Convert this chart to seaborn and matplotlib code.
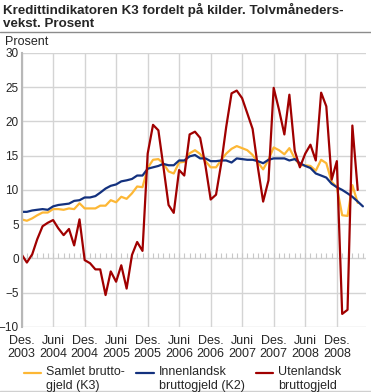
import numpy as np
import pandas as pd
import matplotlib
matplotlib.use('Agg')
import matplotlib.pyplot as plt
import matplotlib.transforms as mtransforms
import seaborn as sns
from matplotlib.lines import Line2D

# Tolvmånedersvekst, des. 2003 - mai 2009
maaneder = pd.date_range('2003-12-01', '2009-05-01', freq='MS')

samlet_k3 = [5.7, 5.5, 5.85, 6.3, 6.7, 6.7, 7.2, 7.2, 7.1, 7.3, 7.2, 8.05,
             7.3, 7.3, 7.3, 7.7, 7.7, 8.5, 8.2, 9.0, 8.7, 9.5, 10.5, 10.4,
             13.2, 14.4, 14.5, 13.9, 12.7, 12.4, 14.0, 14.1, 15.35, 15.8, 15.25, 14.2,
             13.3, 13.3, 14.4, 15.3, 16.0, 16.4, 16.1, 15.8, 15.1, 14.0, 13.0, 14.4,
             16.2, 15.8, 15.2, 16.1, 14.6, 13.6, 13.6, 13.5, 12.8, 14.4, 13.9, 11.2,
             10.4, 6.3, 6.2, 10.7, 8.1, np.nan]

innenlandsk_k2 = [6.8, 6.8, 7.0, 7.1, 7.2, 7.1, 7.6, 7.8, 7.9, 8.0, 8.4, 8.5,
                  8.9, 8.9, 9.1, 9.6, 10.2, 10.6, 10.8, 11.25, 11.4, 11.6, 12.1, 12.1,
                  13.1, 13.3, 13.5, 13.8, 13.6, 13.6, 14.3, 14.3, 14.9, 15.1, 14.6, 14.6,
                  14.2, 14.2, 14.3, 14.3, 14.0, 14.6, 14.5, 14.4, 14.4, 14.2, 13.9, 14.4,
                  14.6, 14.6, 14.6, 14.3, 14.5, 13.9, 13.5, 13.2, 12.4, 12.1, 11.8, 10.9,
                  10.4, 10.0, 9.5, 9.0, 8.3, 7.6]

utenlandsk = [0.6, -0.6, 0.6, 2.8, 4.7, 5.2, 5.6, 4.4, 3.4, 4.3, 1.9, 5.7,
              -0.25, -0.7, -1.6, -1.6, -5.35, -1.9, -3.4, -1.0, -4.4, 0.5, 2.4, 1.1,
              15.3, 19.5, 18.7, 13.6, 7.8, 6.65, 12.9, 12.1, 18.1, 18.5, 17.6, 13.5,
              8.6, 9.3, 14.0, 19.2, 24.1, 24.5, 23.4, 21.2, 18.9, 13.2, 8.3, 11.4,
              24.9, 21.7, 18.1, 23.9, 15.7, 13.3, 15.3, 16.6, 14.3, 24.2, 22.2, 11.5,
              14.2, -8.1, -7.5, 19.4, 10.0, np.nan]

serier = ['Samlet brutto-\ngjeld (K3)', 'Innenlandsk\nbruttogjeld (K2)', 'Utenlandsk\nbruttogjeld']
farger = ['#FDB735', '#13317E', '#A00000']

tick_datoer = pd.date_range('2003-12-01', '2008-12-01', freq='6MS')
tick_tekst = [('Des.' if d.month == 12 else 'Juni') + '\n' + str(d.year) for d in tick_datoer]

df = pd.DataFrame({'dato': maaneder, serier[0]: samlet_k3,
                   serier[1]: innenlandsk_k2, serier[2]: utenlandsk})
df = df.melt(id_vars='dato', var_name='serie', value_name='verdi')

sns.set_style('white')
plt.rcParams['font.family'] = ['Liberation Sans', 'DejaVu Sans']

fig = plt.figure(figsize=(3.71, 3.92), dpi=100)
ax = fig.add_axes([0.058, 0.166, 0.929, 0.699])

grid_farge = '#d4d4d4'
ax.set_yticks(range(-10, 31, 5))
ax.set_xticks(tick_datoer)
ax.grid(True, color=grid_farge, lw=1)
ax.set_axisbelow(True)

# månedlige småstreker langs nullinja
ax.vlines(maaneder, 0, 0.8, color='#c8c8c8', lw=0.8, zorder=1)

sns.lineplot(data=df, x='dato', y='verdi', hue='serie', hue_order=serier,
             palette=farger, linewidth=1.6, ax=ax, legend=False)

ax.set_xlim(pd.Timestamp('2003-12-01'), pd.Timestamp('2009-05-20'))
ax.set_ylim(-10, 30)
ax.set_xticklabels(tick_tekst, fontsize=9, linespacing=1.05)
ax.tick_params(axis='y', labelsize=8.5, length=0, pad=2)
ax.tick_params(axis='x', length=0, pad=6)
ax.set_xlabel('')
ax.set_ylabel('')
for s in ['top', 'right', 'bottom']:
    ax.spines[s].set_visible(False)
ax.spines['left'].set_color('#b8b8b8')
ax.spines['left'].set_linewidth(1.5)

fig.text(0.008, 0.992, 'Kredittindikatoren K3 fordelt på kilder. Tolvmåneders-\nvekst. Prosent',
         fontsize=9.6, fontweight='bold', va='top', ha='left', linespacing=1.12)
fig.add_artist(Line2D([0, 1], [0.919, 0.919], color='#8c8c8c', lw=1))
fig.add_artist(Line2D([0, 1], [0.003, 0.003], color='#d0d0d0', lw=1))
fig.text(0.013, 0.893, 'Prosent', fontsize=9, va='center', ha='left')

handles = [Line2D([], [], color=c, lw=1.6) for c in farger]
leg = fig.legend(handles, serier, loc='upper left', bbox_to_anchor=(0.064, 0.066),
                 ncol=3, frameon=False, fontsize=9, handlelength=1.4, handletextpad=0.4,
                 columnspacing=0.9, borderaxespad=0, borderpad=0, labelspacing=0)
# strekene står ved første tekstlinje
for ln in leg.get_lines():
    ln.set_transform(ln.get_transform() + mtransforms.Affine2D().translate(0, 6))

fig.savefig('out.png', dpi=100)
